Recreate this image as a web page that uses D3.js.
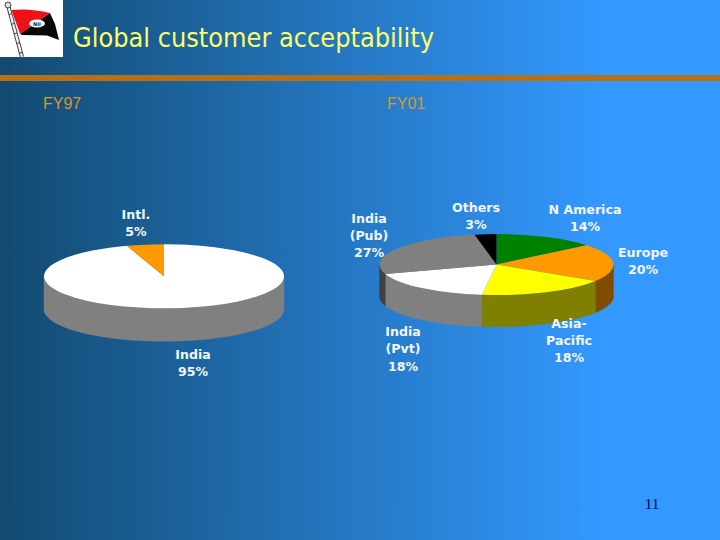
<!DOCTYPE html>
<html><head><meta charset="utf-8">
<script src="https://cdn.jsdelivr.net/npm/d3@7/dist/d3.min.js"></script>
<style>html,body{margin:0;padding:0;background:#3399ff}svg{display:block}</style>
</head><body><svg id="c" width="720" height="540"></svg>
<script>
const titleText = "Global customer acceptability";
const pageNumber = "11";
const fy97Name = "FY97";
const fy97Labels = ["India", "Intl."];
const fy97Values = [95, 5];
const fy97Colors = ["#ffffff", "#ff9900"];
const fy01Name = "FY01";
const fy01Labels = ["N America", "Europe", "Asia-Pacific", "India (Pvt)", "India (Pub)", "Others"];
const fy01Values = [14, 20, 18, 18, 27, 3];
const fy01Colors = ["#008000", "#ff9900", "#ffff00", "#ffffff", "#808080", "#000000"];

const svg = d3.select("#c");
const W = 720, H = 540;
const defs = svg.append("defs");
const grad = defs.append("linearGradient").attr("id", "bg").attr("x1", 0).attr("x2", 1).attr("y1", 0).attr("y2", 0);
[[0, "#124a70"], [0.84, "#3399ff"], [1, "#3399ff"]].forEach(s =>
  grad.append("stop").attr("offset", s[0]).attr("stop-color", s[1]));
svg.append("rect").attr("width", W).attr("height", H).attr("fill", "url(#bg)");

// Logo
const logo = svg.append("g");
logo.append("rect").attr("width", 63).attr("height", 57).attr("fill", "#fff");
logo.append("path").attr("d", "M8 5L22 57").attr("stroke", "#444").attr("stroke-width", 4.2).attr("fill", "none");
logo.append("path").attr("d", "M8 5L22 57").attr("stroke", "#f4f4f4").attr("stroke-width", 2.2).attr("stroke-dasharray", "9 1").attr("fill", "none");
logo.append("circle").attr("cx", 8).attr("cy", 5).attr("r", 3).attr("fill", "#ddd").attr("stroke", "#444").attr("stroke-width", 1);
logo.append("path").attr("d", "M11.5 10Q30 8 50 13L20 34Z").attr("fill", "#f01018");
logo.append("path").attr("d", "M50 13L55 24L59 40L47 35.5L22 35L20 34Z").attr("fill", "#080808");
logo.append("ellipse").attr("cx", 37).attr("cy", 23.5).attr("rx", 8).attr("ry", 4).attr("fill", "#fff");
logo.append("text").attr("x", 37).attr("y", 25.5).attr("text-anchor", "middle").attr("font-family", "DejaVu Sans").attr("font-size", 5).attr("font-weight", "bold").attr("fill", "#222").text("NII");

// Title + rule
svg.append("text").attr("x", 73).attr("y", 47).attr("font-family", "'DejaVu Sans'").attr("font-size", 27)
  .attr("textLength", 361).attr("lengthAdjust", "spacingAndGlyphs").attr("fill", "#ffff66").text(titleText);
svg.append("rect").attr("x", 0).attr("y", 75).attr("width", W).attr("height", 6).attr("fill", "#b87016");

const heading = (x, t) => svg.append("text").attr("x", x).attr("y", 109).attr("font-family", "'Liberation Sans'")
  .attr("font-size", 16).attr("fill", "#d9952f").text(t);
heading(43, fy97Name);
heading(387, fy01Name);

function pie3d(values, colors, sideColors, cx, cy, rx, ry, depth, startAngle) {
  const pie = d3.pie().sort(null).startAngle(startAngle).endAngle(startAngle + 2 * Math.PI)(values);
  const g = svg.append("g");
  const px = a => cx + rx * Math.sin(a), py = a => cy - ry * Math.cos(a);
  const line = d3.line();
  // side walls: only the front half of the rim (90deg..270deg) is visible
  pie.forEach((d, i) => {
    const a0 = Math.max(d.startAngle, Math.PI / 2), a1 = Math.min(d.endAngle, 3 * Math.PI / 2);
    if (a1 <= a0) return;
    const as = d3.range(a0, a1, 0.01).concat([a1]);
    const pts = as.map(a => [px(a), py(a)]).concat(as.slice().reverse().map(a => [px(a), py(a) + depth]));
    g.append("path").attr("d", line(pts) + "Z").attr("fill", sideColors[i]).attr("stroke", sideColors[i]).attr("stroke-width", 0.4);
  });
  // top faces: unit-radius arcs squashed into an ellipse
  const arc = d3.arc().innerRadius(0).outerRadius(1);
  const top = g.append("g").attr("transform", `translate(${cx},${cy}) scale(${rx},${ry})`);
  top.selectAll("path").data(pie).join("path").attr("d", arc).attr("fill", (d, i) => colors[i]);
}

pie3d(fy97Values, fy97Colors, ["#808080", "#804d00"], 164, 276.3, 120, 32, 33, 0);
pie3d(fy01Values, fy01Colors, ["#004000", "#804d00", "#808000", "#808080", "#404040", "#000000"], 496.5, 264.6, 117, 30.5, 31.7, 0);

const labels = [
  ["Intl.", fy97Values[1], 136, 219], ["India", fy97Values[0], 193, 359],
  ["Others", fy01Values[5], 476, 211.5], ["N America", fy01Values[0], 585, 213.5],
  ["Europe", fy01Values[1], 643, 256.5], ["Asia-|Pacific", fy01Values[2], 569, 327.5],
  ["India|(Pvt)", fy01Values[3], 403, 336], ["India|(Pub)", fy01Values[4], 369, 222.5]
];
labels.forEach(([name, v, x, y]) => {
  const lines = name.split("|").concat([v + "%"]);
  const t = svg.append("text").attr("text-anchor", "middle").attr("font-family", "'DejaVu Sans'")
    .attr("font-size", 12.6).attr("font-weight", "bold").attr("fill", "#f2f6ff");
  lines.forEach((s, i) => t.append("tspan").attr("x", x).attr("y", y + i * 17.3).text(s));
});

svg.append("text").attr("x", 652).attr("y", 509).attr("text-anchor", "middle").attr("font-family", "'Liberation Serif'")
  .attr("font-size", 15).attr("fill", "#000050").text(pageNumber);
</script></body></html>
